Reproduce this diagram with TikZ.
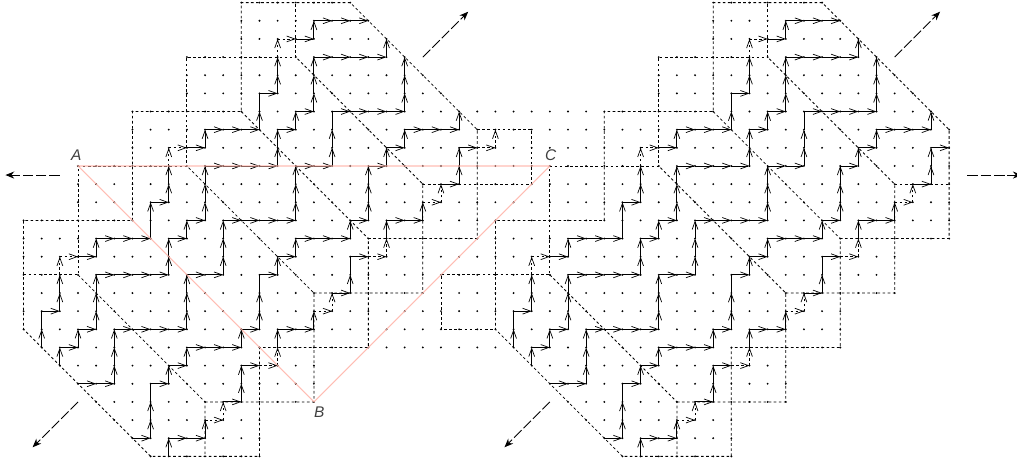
\documentclass[tikz,border=0pt]{standalone}
\usepackage{fontspec}
\setmainfont{Liberation Sans}
\usetikzlibrary{arrows.meta}

\tikzset{
    cell/.style={black, line width=0.45pt, dash pattern=on 1.5pt off 1.4pt},
    stepline/.style={black, line width=0.5pt, -{Straight Barb[length=4.6pt,width=3.3pt,line width=0.4pt]}},
    gapline/.style={stepline, dash pattern=on 1.4pt off 1.4pt},
    plainline/.style={black, line width=0.5pt},
    outward/.style={black, line width=0.5pt, dash pattern=on 6pt off 1.6pt, -{Stealth[length=5pt,width=4pt]}},
    triangle/.style={red!75!orange!35!white, line width=0.6pt, opacity=0.85},
    corner/.style={font=\itshape\fontsize{8.8pt}{10pt}\selectfont, text=black!75}
}

% One period of the pattern
\newcommand{\oneperiod}{
    % Cell boundaries
    \draw[cell] (4,-16) -- (-3,-9) -- (-3,-3) -- (3,-3) -- (3,3) -- (9,3) -- (9,9) -- (15,9) -- (22,2) -- (22,-4) -- (16,-4) -- (16,-10) -- (10,-10) -- (10,-16) -- cycle;
    \draw[cell] (-3,-6) -- (0,-6) -- (0,0) -- (6,0) -- (6,6) -- (12,6) -- (12,9);
    \draw[cell] (0,-6) -- (7,-13) -- (7,-16);
    \draw[cell] (7,-13) -- (13,-13) -- (13,-7) -- (6,0);
    \draw[cell] (13,-7) -- (19,-7) -- (19,-1) -- (12,6);
    \draw[cell] (19,-1) -- (22,-1);
    \draw[cell] (9,3) -- (16,-4);

    % Horizontal runs of unit steps
    \foreach \i/\j/\n in {
        -1/-10/1, 0/-9/1, 1/-6/4, 5/-4/1, 6/-3/1, 7/0/4, 11/2/1, 12/3/1, 13/6/4,
        -2/-8/1, 0/-5/1, 1/-4/3, 4/-2/1, 6/1/1, 7/2/3, 10/4/1, 12/7/1, 13/8/3,
        0/-12/2, 2/-9/4, 6/-6/2, 8/-3/4, 12/0/2, 14/3/4,
        3/-15/1, 4/-12/1, 5/-11/1, 6/-10/3, 9/-9/1, 10/-6/1, 11/-5/1, 12/-4/3, 15/-3/1, 16/0/1, 17/1/1, 18/2/3,
        5/-15/2, 8/-13/1, 9/-11/1, 11/-9/2, 14/-7/1, 15/-5/1, 17/-3/2, 20/-1/1, 21/1/1}
        \foreach \k in {1,...,\n}
            \draw[stepline] (\i+\k-1,\j) -- (\i+\k,\j);

    % Vertical runs of unit steps
    \foreach \i/\j/\n in {
        -1/-11/1, 0/-10/1, 1/-9/3, 5/-6/2, 6/-4/1, 7/-3/3, 11/0/2, 12/2/1, 13/3/3, 17/6/1,
        -2/-10/1, -1/-8/2, 1/-5/1, 4/-3/1, 5/-2/2, 7/1/1, 10/2/1, 11/4/2, 13/7/1,
        2/-12/3, 6/-9/3, 8/-6/3, 12/-3/3, 14/0/2, 18/3/3,
        4/-15/2, 5/-12/1, 6/-11/1, 9/-10/1, 10/-9/2, 11/-6/1, 12/-5/1, 15/-4/1, 16/-3/3, 17/0/1, 18/1/1, 21/2/1,
        5/-16/1, 7/-15/1, 9/-13/2, 11/-10/1, 13/-9/1, 15/-7/1, 17/-4/1, 19/-3/1, 21/-1/2}
        \foreach \k in {1,...,\n}
            \draw[stepline] (\i,\j+\k-1) -- (\i,\j+\k);

    % Steps without a head
    \foreach \i/\j in {-2/-9, 4/-4, 10/3, 14/2, 4/-13, 10/-7, 15/-6}
        \draw[plainline] (\i,\j) -- (\i,\j+1);

    % Dashed steps
    \foreach \i/\j in {-1/-5, 5/1, 11/7, 7/-14, 10/-11, 13/-8, 16/-5, 19/-2}
        \draw[gapline] (\i,\j) -- (\i+1,\j);
    \foreach \i/\j in {-1/-6, 5/0, 11/6, 8/-14, 11/-11, 14/-8, 17/-5, 20/-2}
        \draw[gapline] (\i,\j) -- (\i,\j+1);
}

\begin{document}
\begin{tikzpicture}[x=0.363cm, y=0.363cm]
    \useasboundingbox (-4.298,-16.42) rectangle (51.74,9.146);

    % Lattice points, row by row
    \foreach \j/\a/\b in {
        9/9/15, 9/35/41, 8/9/16, 8/35/42, 7/9/17, 7/35/43,
        6/6/18, 6/32/44, 5/6/19, 5/32/45, 4/6/20, 4/32/46,
        3/3/47, 2/3/48, 1/3/48, 0/0/48, -1/0/48, -2/0/48,
        -3/-3/48, -4/-3/48, -5/-3/45, -6/-3/45, -7/-3/45, -8/-3/42, -9/-3/42, -10/-2/42,
        -11/-1/13, -11/25/39, -12/0/13, -12/26/39, -13/1/13, -13/27/39,
        -14/2/10, -14/28/36, -15/3/10, -15/29/36, -16/4/10, -16/30/36}
        \foreach \i in {\a,...,\b}
            \fill (\i,\j) circle [radius=0.6pt];

    % Left and right periods
    \oneperiod
    \begin{scope}[shift={(26,0)}]
        \oneperiod
    \end{scope}

    % Extra cells
    \draw[cell] (22,2) -- (25,2) -- (25,-1) -- (22,-1);
    \draw[cell] (23,-6) -- (20,-6) -- (20,-9) -- (23,-9);
    \draw[gapline] (22,1) -- (23,1);
    \draw[gapline] (23,1) -- (23,2);

    % Outward arrows
    \draw[outward] (-1,-0.5) -- (-4,-0.5);
    \draw[outward] (49,-0.5) -- (52,-0.5);
    \draw[outward] (19,6) -- (21.5,8.5);
    \draw[outward] (45,6) -- (47.5,8.5);
    \draw[outward] (0,-13) -- (-2.5,-15.5);
    \draw[outward] (26,-13) -- (23.5,-15.5);

    % Triangle
    \coordinate (A) at (0,0);
    \coordinate (B) at (13,-13);
    \coordinate (C) at (26,0);
    \draw[triangle] (A) -- (B) -- (C) -- cycle;
    \node[corner] (labelA) at (-0.1,0.62) {A};
    \node[corner] (labelB) at (13.3,-13.57) {B};
    \node[corner] (labelC) at (26.05,0.6) {C};
\end{tikzpicture}
\end{document}
